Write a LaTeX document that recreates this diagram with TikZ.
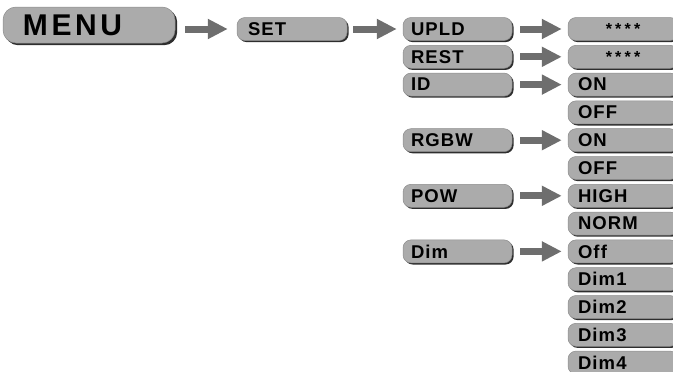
\documentclass[tikz,border=0pt]{standalone}
\usepackage{fontspec}
\setsansfont{Liberation Sans}[LetterSpace=6]
\newfontfamily\titlefont{Liberation Sans}[LetterSpace=12]
\newfontfamily\starfont{Liberation Sans}[LetterSpace=20]
\usetikzlibrary{
    arrows.meta,
    positioning,
    shadows
}
\definecolor{boxgray}{HTML}{ABABAB}
\definecolor{edgegray}{HTML}{8C8C8C}
\definecolor{arrowgray}{HTML}{6E6E6E}
\definecolor{shade}{HTML}{2E2E2E}
\tikzset{
    % Base menu entry look
    entry/.style={
        rectangle,
        rounded corners=8pt,
        minimum height=23pt,
        align=left,
        inner ysep=0pt,
        font=\sffamily\bfseries\fontsize{18.5}{18.5}\selectfont,
        fill=boxgray,
        draw=edgegray,
        line width=0.5pt,
        drop shadow={shadow xshift=1.6pt, shadow yshift=-1.6pt, fill=shade, opacity=1}
    },
    % Top level entry
    menubox/.style={
        entry,
        rounded corners=13pt,
        minimum height=36pt,
        text width=132pt,
        inner xsep=20pt,
        font=\titlefont\bfseries\fontsize{30}{30}\selectfont,
        drop shadow={shadow xshift=2.2pt, shadow yshift=-2.2pt, fill=shade, opacity=1}
    },
    % Sub menu entry
    item/.style={
        entry,
        text width=#1,
        inner xsep=8pt
    },
    item/.default=93pt,
    % Value entry
    value/.style={
        entry,
        text width=90pt,
        inner xsep=10pt
    },
    % Block arrow
    flowarrow/.style={
        -{Triangle[length=20pt, width=19pt]},
        line width=7pt,
        draw=arrowgray,
        shorten <=8pt,
        shorten >=6pt
    },
    stars/.style={
        value,
        align=center,
        font=\starfont\bfseries\fontsize{16}{16}\selectfont
    }
}
\begin{document}
\begin{tikzpicture}[x=1pt, y=-1pt]

    \clip (0,0) rectangle (673,372);

    % Main menu
    \node[menubox] (menu) at (89, 25) {MENU};
    \node[item=88pt, inner xsep=11pt] (set) at (292, 29) {SET};

    % Setting entries
    \node[item] (upld) at (457.5, 29) {UPLD};
    \node[item] (rest) at (457.5, 56.8) {REST};
    \node[item] (id) at (457.5, 84.6) {ID};
    \node[item] (rgbw) at (457.5, 140.2) {RGBW};
    \node[item] (pow) at (457.5, 195.8) {POW};
    \node[item] (dim) at (457.5, 251.4) {Dim};

    % Values
    \node[stars] (upldval) at (623, 29) {\raisebox{-3.5pt}{****}};
    \node[stars] (restval) at (623, 56.8) {\raisebox{-3.5pt}{****}};
    \node[value] (idon) at (623, 84.6) {ON};
    \node[value] (idoff) at (623, 112.4) {OFF};
    \node[value] (rgbwon) at (623, 140.2) {ON};
    \node[value] (rgbwoff) at (623, 168) {OFF};
    \node[value] (powhigh) at (623, 195.8) {HIGH};
    \node[value] (pownorm) at (623, 223.6) {NORM};
    \node[value] (dimoff) at (623, 251.4) {Off};
    \node[value] (dimone) at (623, 279.2) {Dim1};
    \node[value] (dimtwo) at (623, 307) {Dim2};
    \node[value] (dimthree) at (623, 334.8) {Dim3};
    \node[value] (dimfour) at (623, 362.6) {Dim4};

    % Arrows
    \draw[flowarrow, shorten <=10pt, shorten >=9pt] (menu.east |- set.west) -- (set.west);
    \draw[flowarrow, shorten <=6pt] (set.east) -- (upld.west);
    \draw[flowarrow] (upld.east) -- (upldval.west);
    \draw[flowarrow] (rest.east) -- (restval.west);
    \draw[flowarrow] (id.east) -- (idon.west);
    \draw[flowarrow] (rgbw.east) -- (rgbwon.west);
    \draw[flowarrow] (pow.east) -- (powhigh.west);
    \draw[flowarrow] (dim.east) -- (dimoff.west);

\end{tikzpicture}
\end{document}
